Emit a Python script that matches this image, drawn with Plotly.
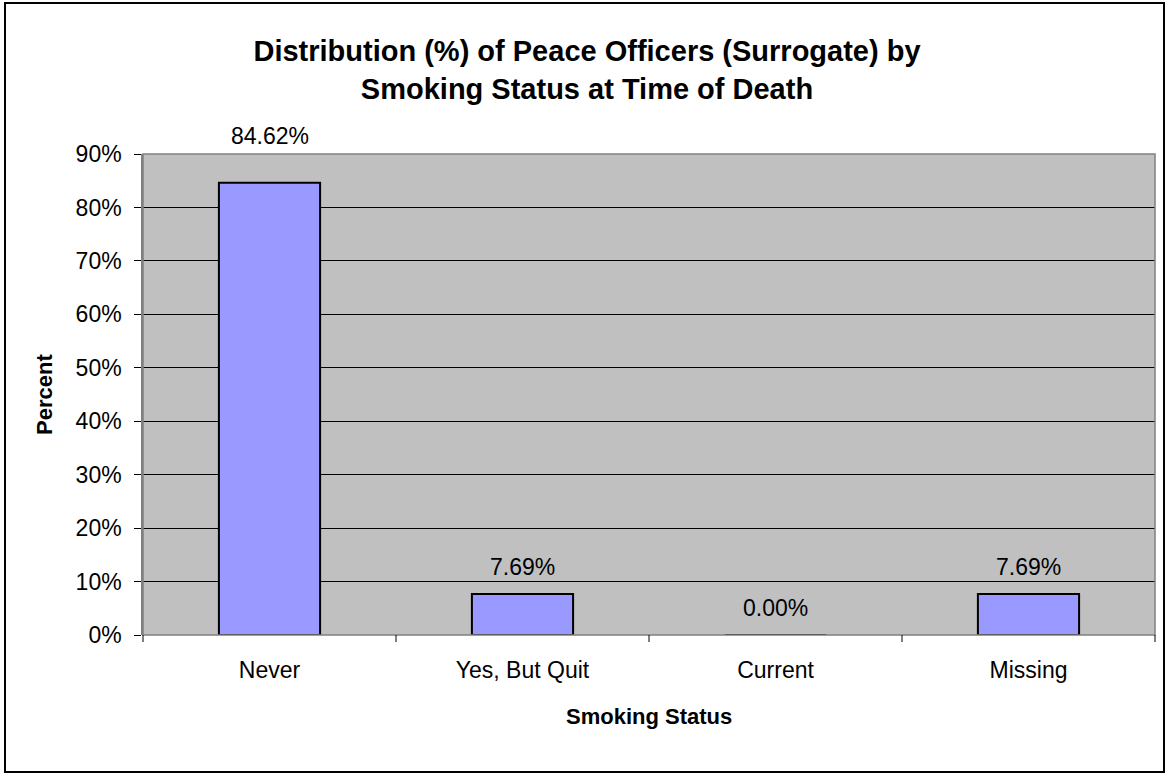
import plotly.graph_objects as go

categories = ["Never", "Yes, But Quit", "Current", "Missing"]
percents = [84.62, 7.69, 0.00, 7.69]
y_ticks = [0, 10, 20, 30, 40, 50, 60, 70, 80, 90]
y_tick_labels = [f"{v}%" for v in y_ticks]

W, H = 1166, 774
L, R, T, B = 143, 11, 154, 139
pw, ph = W - L - R, H - T - B

FONT = "Liberation Sans, Arial, sans-serif"
TICK_SIZE = 23


def px_x(p):
    return (p - L) / pw


def px_y(p):
    return 1 - (p - T) / ph


fig = go.Figure()
fig.add_trace(go.Bar(
    x=categories,
    y=percents,
    width=0.4,
    marker=dict(color="#9999FF", line=dict(color="black", width=2)),
    cliponaxis=False,
    hoverinfo="x+y",
))

# value labels sitting above each bar
label_offsets = [47, 27, 27, 27]
annotations = []
for cat, val, off in zip(categories, percents, label_offsets):
    annotations.append(dict(
        x=cat, y=val, xref="x", yref="y",
        text=f"{val:.2f}%", showarrow=False,
        yanchor="middle", yshift=off,
        font=dict(family=FONT, size=TICK_SIZE, color="black"),
    ))

# axis titles
annotations.append(dict(
    x=px_x(649), y=px_y(716), xref="paper", yref="paper",
    text="<b>Smoking Status</b>", showarrow=False,
    xanchor="center", yanchor="middle",
    font=dict(family=FONT, size=22, color="black"),
))
annotations.append(dict(
    x=px_x(44), y=px_y(395), xref="paper", yref="paper",
    text="<b>Percent</b>", showarrow=False, textangle=-90,
    xanchor="center", yanchor="middle",
    font=dict(family=FONT, size=22, color="black"),
))

shapes = [
    # outer chart frame
    dict(type="rect", xref="paper", yref="paper",
         x0=px_x(5), x1=px_x(1164), y0=px_y(3), y1=px_y(772),
         line=dict(color="black", width=2), layer="below"),
    # plot area frame
    dict(type="rect", xref="paper", yref="paper", x0=0, x1=1, y0=0, y1=1,
         line=dict(color="#808080", width=1.5), layer="above"),
]
# category boundary tick marks below the x axis
for i in range(len(categories) + 1):
    xp = i / len(categories)
    shapes.append(dict(type="line", xref="paper", yref="paper",
                       x0=xp, x1=xp, y0=0, y1=px_y(642),
                       line=dict(color="black", width=1)))

fig.update_layout(
    width=W, height=H,
    margin=dict(l=L, r=R, t=T, b=B, autoexpand=False),
    paper_bgcolor="white",
    plot_bgcolor="#C0C0C0",
    showlegend=False,
    title=dict(
        text="<b>Distribution (%) of Peace Officers (Surrogate) by<br>Smoking Status at Time of Death</b>",
        x=587 / W, xanchor="center", y=1 - 61 / H, yanchor="middle",
        font=dict(family=FONT, size=29, color="black"),
    ),
    xaxis=dict(
        range=[-0.5, 3.5],
        showgrid=False, zeroline=False, ticks="",
        tickfont=dict(family=FONT, size=TICK_SIZE, color="black"),
        ticklabelstandoff=19,
    ),
    yaxis=dict(
        range=[0, 90],
        tickvals=y_ticks, ticktext=y_tick_labels,
        showgrid=True, gridcolor="black", gridwidth=1,
        zeroline=False,
        ticks="outside", ticklen=7, tickcolor="black",
        tickfont=dict(family=FONT, size=TICK_SIZE, color="black"),
        ticklabelstandoff=8,
        showline=True, linecolor="#808080", linewidth=1.5,
    ),
    annotations=annotations,
    shapes=shapes,
    bargap=0.6,
)

fig.write_html("out.html")
